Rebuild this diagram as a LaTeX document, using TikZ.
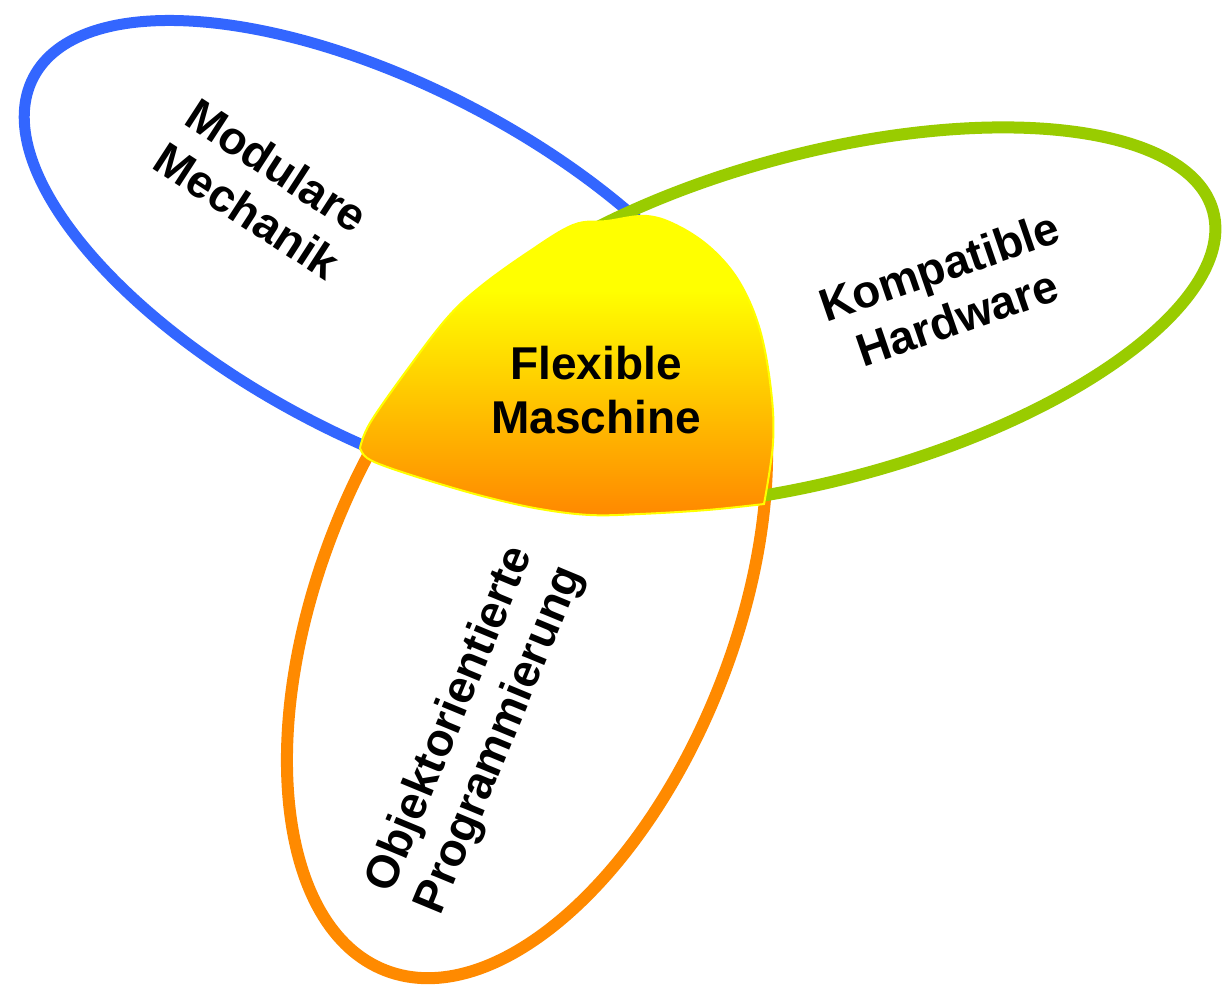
\documentclass[tikz,border=0pt]{standalone}
\usepackage{fontspec}
\setmainfont{Liberation Sans}
\definecolor{cblue}{RGB}{51,102,255}
\definecolor{cgreen}{RGB}{153,204,0}
\definecolor{corange}{RGB}{255,138,0}
\definecolor{blobB}{RGB}{255,136,0}
\definecolor{blobT}{RGB}{255,255,0}
\pgfdeclareverticalshading{blobshade}{100bp}{color(0bp)=(blobB); color(25bp)=(blobB); color(62.5bp)=(blobT); color(100bp)=(blobT)}
\tikzset{
  ring/.style={line width=#1},
  lbl/.style={font=\fontsize{46}{54}\selectfont\bfseries, align=center, inner sep=0pt, text=black},
}
\begin{document}
\begin{tikzpicture}[x=1pt,y=-1pt]
\useasboundingbox (0,0) rectangle (1223,986);
\fill[white] (0,0) rectangle (1223,986);
% blue ellipse (Modulare Mechanik)
\draw[ring=11pt, cblue, rotate around={-27.5:(390,263)}] (390,263) ellipse [x radius=402, y radius=176];
% orange ellipse (Objektorientierte Programmierung)
\draw[ring=12pt, corange, rotate around={68.7:(527,607)}] (527,607) ellipse [x radius=390, y radius=208];
% green ellipse (Kompatible Hardware)
\draw[ring=12pt, cgreen, rotate around={15:(819,317)}] (819,317) ellipse [x radius=408, y radius=163];
% central blob
\path[draw=blobT, line width=2pt, shading=blobshade]
 (360,448) -- plot[smooth, tension=0.6] coordinates {(360,448) (370,423) (407,370) (447,318) (480,287)
   (527,253) (573,225) (607,221) (647,216) (680,227) (713,250) (740,283) (760,330)
   (771,390) (773,443) (764,504)}
 -- plot[smooth, tension=0.6] coordinates {(764,504) (707,510) (640,514) (590,515) (540,509)
   (490,498) (440,484) (390,468) (367,458) (360,448)} -- cycle;
% labels
\node[lbl, rotate=-33] (mech) at (262,188) {Modulare\\Mechanik};
\node[lbl, rotate=19] (hw) at (948,292) {Kompatible\\Hardware};
\node[lbl, rotate=67.5] (prog) at (476,730) {Objektorientierte\\Programmierung};
\node[lbl] (flex) at (596,390) {Flexible\\Maschine};
\end{tikzpicture}
\end{document}
